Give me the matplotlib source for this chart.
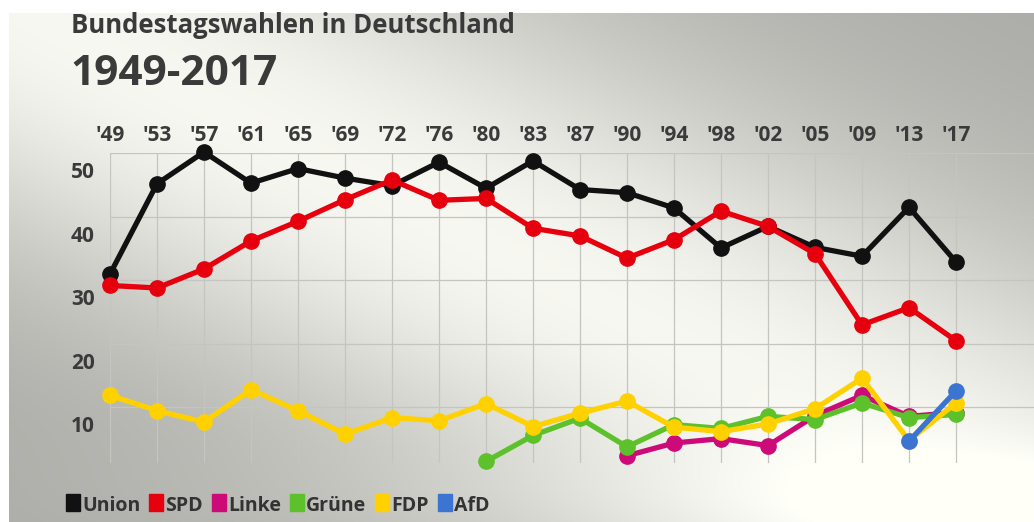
import numpy as np
import matplotlib
matplotlib.use("Agg")
import matplotlib.pyplot as plt
from matplotlib.transforms import ScaledTranslation
from matplotlib.patches import Rectangle

plt.rcParams['font.family'] = ['Open Sans', 'DejaVu Sans']
plt.rcParams['font.weight'] = 'bold'

# election years (labels) and results in percent
years = ["'49", "'53", "'57", "'61", "'65", "'69", "'72", "'76", "'80", "'83",
         "'87", "'90", "'94", "'98", "'02", "'05", "'09", "'13", "'17"]
union = [31.0, 45.2, 50.2, 45.3, 47.6, 46.1, 44.9, 48.6, 44.5, 48.8,
         44.3, 43.8, 41.4, 35.1, 38.5, 35.2, 33.8, 41.5, 32.9]
spd = [29.2, 28.8, 31.8, 36.2, 39.3, 42.7, 45.8, 42.6, 42.9, 38.2,
       37.0, 33.5, 36.4, 40.9, 38.5, 34.2, 23.0, 25.7, 20.5]
fdp = [11.9, 9.5, 7.7, 12.8, 9.5, 5.8, 8.4, 7.9, 10.6, 7.0,
       9.1, 11.0, 6.9, 6.2, 7.4, 9.8, 14.6, 4.8, 10.7]
gruene_start = 8   # first year index ('80)
gruene = [1.5, 5.6, 8.3, 3.8, 7.3, 6.7, 8.6, 8.1, 10.7, 8.4, 8.9]
linke_start = 11   # '90
linke = [2.4, 4.4, 5.1, 4.0, 8.7, 11.9, 8.6, 9.2]
afd_start = 17     # '13
afd = [4.7, 12.6]
yticks = [10, 20, 30, 40, 50]

series = [
    ("Union", 0, union, "#111111"),
    ("SPD", 0, spd, "#e6000d"),
    ("Linke", linke_start, linke, "#cc0a78"),
    ("Grüne", gruene_start, gruene, "#5cc12a"),
    ("FDP", 0, fdp, "#ffd100"),
    ("AfD", afd_start, afd, "#3b74d1"),
]

W, H = 1034, 522
fig = plt.figure(figsize=(W / 100, H / 100), dpi=100)

# background: grey studio gradient with a light diagonal band
yy, xx = np.mgrid[0:H, 0:W].astype(float)
d = (yy - 0.505 * xx) / 1.12
w = np.where(d < 0, 250.0, 230.0)
v = 0.67 + 0.30 * np.exp(-(d / w) ** 2)
v = v + 0.10 * np.exp(-((H - yy) / 70.0) ** 2) * np.clip(1 - np.abs(d) / 500, 0, 1)
v = np.clip(v, 0, 1)
bg = np.dstack([v, v, v * 0.975])
bg[:13, :, :] = 1.0
bg[:, :9, :] = 1.0
bax = fig.add_axes([0, 0, 1, 1])
bax.imshow(bg, extent=(0, W, H, 0), aspect='auto', interpolation='bilinear')
bax.set_axis_off()

# chart axes
step = 47.0
x0 = 110
top_px, bot_px = 153.3, 463.0
px_per_unit = 6.354
ymin = 50 - (bot_px - top_px) / px_per_unit
ax = fig.add_axes([x0 / W, (H - bot_px) / H, (W - x0) / W, (bot_px - top_px) / H])
ax.set_facecolor('none')
ax.set_xlim(0, (W - x0) / step)
ax.set_ylim(ymin, 50)
for s in ax.spines.values():
    s.set_visible(False)

grid_c = '#c4c4c0'
for i in range(len(years)):
    ax.axvline(i, color=grid_c, lw=0.9, zorder=1)
for t in yticks:
    ax.axhline(t, color=grid_c, lw=0.9, zorder=1)

text_c = '#3a3a3a'
ax.set_xticks(range(len(years)))
ax.set_xticklabels(years)
ax.xaxis.tick_top()
ax.tick_params(axis='x', length=0, pad=5, labelsize=15, labelcolor=text_c)
ax.set_yticks(yticks)
ax.set_yticklabels([str(t) for t in yticks])
ax.tick_params(axis='y', length=0, pad=11, labelsize=15, labelcolor=text_c)
off = ScaledTranslation(0, -0.17, fig.dpi_scale_trans)
for lab in ax.get_yticklabels():
    lab.set_transform(lab.get_transform() + off)

for name, start, vals, col in series:
    xs = np.arange(start, start + len(vals))
    ax.plot(xs, vals, color=col, lw=3.8, marker='o', ms=11,
            solid_capstyle='round', clip_on=False, zorder=3)

# titles
fig.text(71 / W, 1 - 33 / H, "Bundestagswahlen in Deutschland",
         fontsize=18.5, color=text_c, va='baseline', ha='left')
fig.text(70 / W, 1 - 85 / H, "1949-2017",
         fontsize=30.5, color=text_c, va='baseline', ha='left')

# legend row at bottom
fig.canvas.draw()
renderer = fig.canvas.get_renderer()
xpos = 66
base = 511
for name, start, vals, col in series:
    fig.patches.append(Rectangle((xpos / W, 1 - base / H), 14 / W, 17 / H,
                                 transform=fig.transFigure, color=col, zorder=5))
    t = fig.text((xpos + 16) / W, 1 - base / H, name, fontsize=14,
                 color='#333333', va='baseline', ha='left')
    ext = t.get_window_extent(renderer)
    xpos = xpos + 16 + ext.width + 9

fig.savefig("out.png", dpi=100)
